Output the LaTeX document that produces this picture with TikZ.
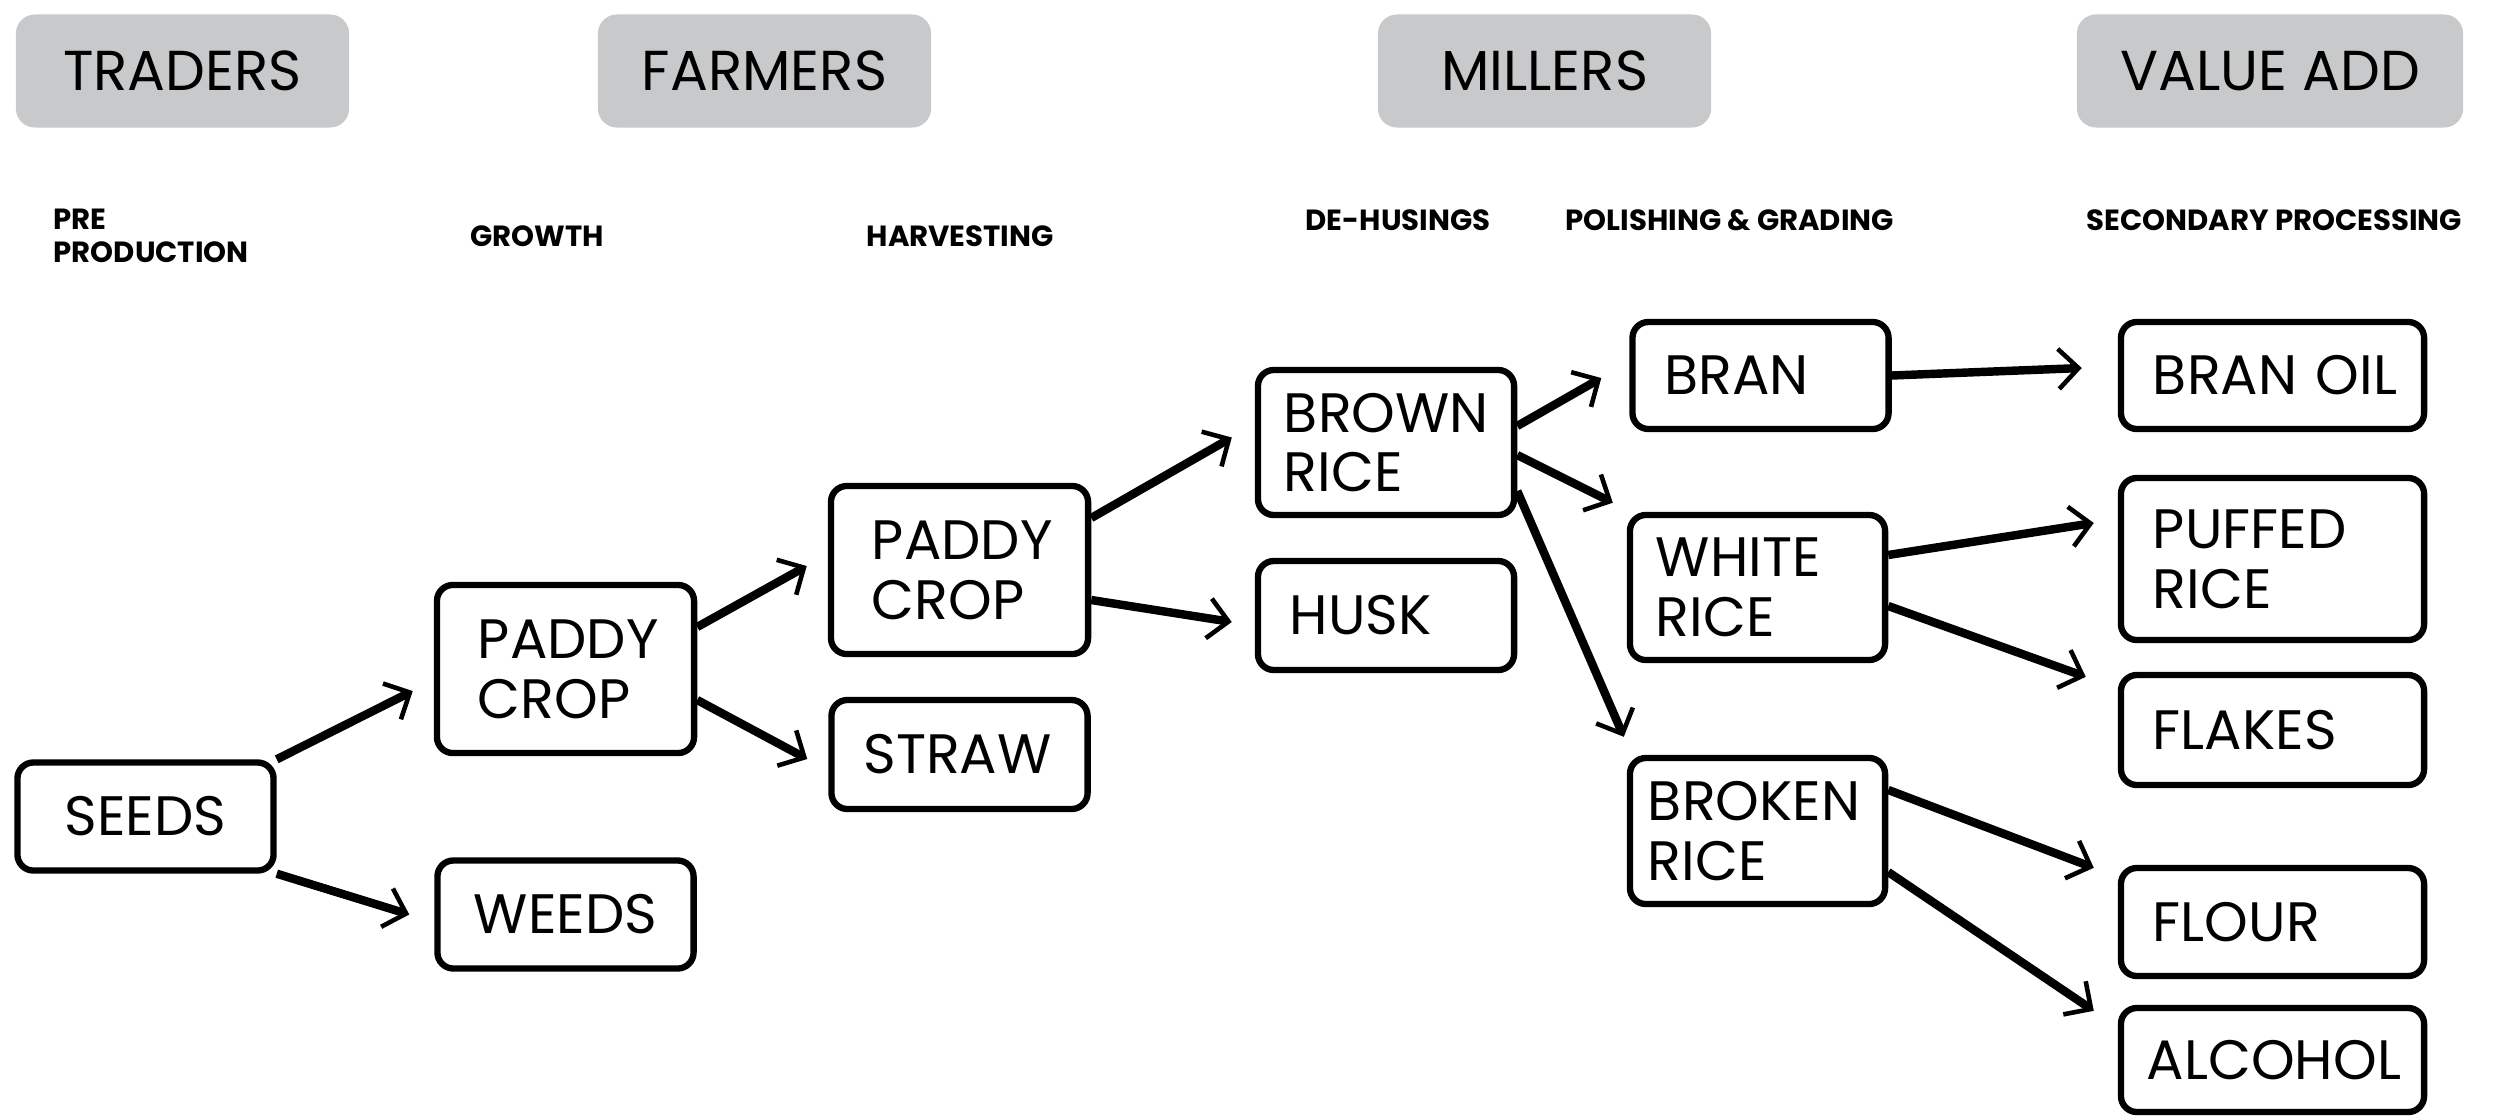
\documentclass[tikz,border=0pt]{standalone}
\usepackage{fontspec}
\setmainfont{Poppins}
\usetikzlibrary{arrows.meta}
\hyphenpenalty=10000
\exhyphenpenalty=10000

\tikzset{
  rolebox/.style={fill=rolegray, rounded corners=0.19cm, minimum width=3.33cm,
    minimum height=1.13cm, inner sep=0pt, font=\fontsize{16}{18}\selectfont},
  phase/.style={anchor=west, inner sep=0pt, align=left,
    font=\fontsize{8.3}{9.4}\selectfont\bfseries},
  stagebox/.style={draw, line width=1.8pt, rounded corners=0.16cm, align=left,
    inner xsep=0.32cm, inner ysep=0pt, text width=1.92cm, minimum height=1.08cm,
    font=\fontsize{15.8}{17}\selectfont},
  flow/.style={line width=2.4pt,
    -{Straight Barb[length=0.2cm,width=0.4cm,line width=1.3pt]}}
}

\begin{document}
\begin{tikzpicture}[x=0.01cm,y=-0.01cm]
  % Define colors for the role headers
  \definecolor{rolegray}{RGB}{200,201,203}

  % Fix the page size
  \useasboundingbox (0,0) rectangle (2501,1115);

  % Role headers
  \node[rolebox] (traders) at (182.5,71) {TRADERS};
  \node[rolebox] (farmers) at (764.5,71) {FARMERS};
  \node[rolebox] (millers) at (1544.5,71) {MILLERS};
  \node[rolebox, minimum width=3.86cm] (valueadd) at (2270,71) {VALUE ADD};

  % Phase labels
  \node[phase] (preprod) at (53,236) {PRE\\PRODUCTION};
  \node[phase] (growth) at (470,236) {GROWTH};
  \node[phase] (harvest) at (866,236) {HARVESTING};
  \node[phase] (dehusk) at (1305,220) {DE-HUSINGS};
  \node[phase] (polish) at (1565,220) {POLISHING \& GRADING};
  \node[phase] (secondary) at (2086,220) {SECONDARY PROCESSING};

  % Pre production and growth
  \node[stagebox, align=center] (seeds) at (145.5,816.5) {SEEDS};
  \node[stagebox, inner xsep=0.41cm, text width=1.75cm, minimum height=1.68cm] (paddyA) at (565.5,669) {PADDY\\CROP};
  \node[stagebox, align=center] (weeds) at (565.5,914.5) {WEEDS};

  % Harvesting
  \node[stagebox, inner xsep=0.41cm, text width=1.75cm, minimum height=1.68cm] (paddyB) at (959.5,570) {PADDY\\CROP};
  \node[stagebox, minimum height=1.09cm] (straw) at (959.5,754.5) {STRAW};

  % De-husking
  \node[stagebox, inner xsep=0.26cm, text width=2.04cm, minimum height=1.45cm] (brown) at (1386,442.5) {BROWN\\RICE};
  \node[stagebox, minimum height=1.09cm] (husk) at (1386,615.5) {HUSK};

  % Polishing and grading
  \node[stagebox, minimum height=1.07cm] (bran) at (1760.5,375.5) {BRAN};
  \node[stagebox, inner xsep=0.26cm, text width=2.03cm, minimum height=1.45cm] (white) at (1757.5,587.5) {WHITE\\RICE};
  \node[stagebox, inner xsep=0.18cm, text width=2.19cm, minimum height=1.46cm] (broken) at (1757.5,831) {BROKEN\\RICE};

  % Secondary processing
  \node[stagebox, text width=2.39cm, minimum height=1.07cm] (branoil) at (2272.5,375.5) {BRAN~OIL};
  \node[stagebox, text width=2.39cm, minimum height=1.62cm] (puffed) at (2272.5,559) {PUFFED\\RICE};
  \node[stagebox, text width=2.39cm, minimum height=1.10cm] (flakes) at (2272.5,730) {FLAKES};
  \node[stagebox, text width=2.39cm] (flour) at (2272.5,922) {FLOUR};
  \node[stagebox, inner xsep=0.26cm, text width=2.51cm, minimum height=1.04cm] (alcohol) at (2272.5,1060) {ALCOHOL};

  % Flow arrows
  \draw[flow] (seeds.north east) -- ([xshift=-0.21cm,yshift=-0.22cm]paddyA.west);
  \draw[flow] (seeds.south east) -- ([xshift=-0.25cm]weeds.west);
  \draw[flow] ([yshift=0.42cm]paddyA.east) -- ([xshift=-0.21cm,yshift=0.04cm]paddyB.west);
  \draw[flow] ([yshift=-0.31cm]paddyA.east) -- ([xshift=-0.21cm,yshift=-0.045cm]straw.west);
  \draw[flow] ([yshift=0.52cm]paddyB.east) -- ([xshift=-0.23cm,yshift=0.05cm]brown.west);
  \draw[flow] ([yshift=-0.30cm]paddyB.east) -- ([xshift=-0.23cm,yshift=-0.065cm]husk.west);
  \draw[flow] ([yshift=0.165cm]brown.east) -- ([xshift=-0.28cm,yshift=-0.025cm]bran.west);
  \draw[flow] ([yshift=-0.125cm]brown.east) -- ([xshift=-0.14cm,yshift=0.09cm]white.north west);
  \draw[flow] ([yshift=-0.485cm]brown.east) -- ([xshift=-0.03cm,yshift=0.18cm]broken.north west);
  \draw[flow] (bran.east) -- ([xshift=-0.36cm,yshift=0.075cm]branoil.west);
  \draw[flow] ([yshift=0.325cm]white.east) -- ([xshift=-0.24cm,yshift=0.36cm]puffed.west);
  \draw[flow] ([yshift=-0.185cm]white.east) -- ([xshift=-0.32cm,yshift=-0.05cm]flakes.north west);
  \draw[flow] ([yshift=0.41cm]broken.east) -- ([xshift=-0.24cm,yshift=-0.03cm]flour.north west);
  \draw[flow] ([yshift=-0.41cm]broken.east) -- ([xshift=-0.24cm,yshift=-0.06cm]alcohol.north west);
\end{tikzpicture}
\end{document}
